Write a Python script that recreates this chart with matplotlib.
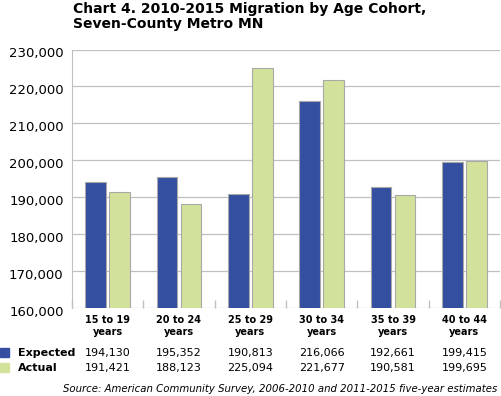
import matplotlib
matplotlib.use('Agg')
import matplotlib.pyplot as plt
import matplotlib.transforms as mtrans
import numpy as np

categories = ['15 to 19\nyears', '20 to 24\nyears', '25 to 29\nyears',
              '30 to 34\nyears', '35 to 39\nyears', '40 to 44\nyears']
expected = [194130, 195352, 190813, 216066, 192661, 199415]
actual = [191421, 188123, 225094, 221677, 190581, 199695]
yticks = [160000, 170000, 180000, 190000, 200000, 210000, 220000, 230000]

blue = '#344ea0'
green = '#d3e29b'
grid = '#c0c0c0'

fig = plt.figure(figsize=(5.01, 3.96), dpi=100)
ax = fig.add_axes([72 / 501, 1 - 308 / 396, 428 / 501, 258.5 / 396])

x = np.arange(len(categories))
ax.bar(x - 0.17, expected, width=0.29, color=blue, edgecolor='#a8a8a8', linewidth=0.8, zorder=3)
ax.bar(x + 0.17, actual, width=0.29, color=green, edgecolor='#a8a8a8', linewidth=0.8, zorder=3)

ax.set_xlim(-0.5, len(categories) - 0.5)
ax.set_ylim(160000, 230000)
ax.set_yticks(yticks)
ax.set_yticklabels(['{:,}'.format(v) for v in yticks], fontsize=9.5)
ax.yaxis.grid(True, color=grid, linewidth=0.9, zorder=0)
ax.tick_params(axis='y', length=0, pad=6)
# labels sit a little below their gridlines in the original
shift = mtrans.ScaledTranslation(0, -3 / 100, fig.dpi_scale_trans)
for lbl in ax.get_yticklabels():
    lbl.set_transform(lbl.get_transform() + shift)

ax.set_xticks(np.arange(len(categories) + 1) - 0.5)
ax.set_xticklabels([])
ax.tick_params(axis='x', direction='in', length=6, color=grid, width=1)

for s in ['top', 'right', 'bottom']:
    ax.spines[s].set_visible(False)
ax.spines['left'].set_color(grid)

tr = mtrans.blended_transform_factory(ax.transData, fig.transFigure)
for i, c in enumerate(categories):
    ax.text(i, 1 - 326 / 396, c, transform=tr, ha='center', va='center',
            fontsize=7, fontweight='bold', linespacing=1.2)
    ax.text(i, 1 - 353 / 396, '{:,}'.format(expected[i]), transform=tr,
            ha='center', va='center', fontsize=8)
    ax.text(i, 1 - 368 / 396, '{:,}'.format(actual[i]), transform=tr,
            ha='center', va='center', fontsize=8)

fig.patches.append(plt.Rectangle((0, 1 - 357 / 396), 9 / 501, 9 / 396,
                                 transform=fig.transFigure, color=blue))
fig.patches.append(plt.Rectangle((0, 1 - 372 / 396), 9 / 501, 9 / 396,
                                 transform=fig.transFigure, color=green))
fig.text(18 / 501, 1 - 353 / 396, 'Expected', fontsize=8, fontweight='bold', va='center')
fig.text(18 / 501, 1 - 368 / 396, 'Actual', fontsize=8, fontweight='bold', va='center')

fig.text(73 / 501, 1 - 16.5 / 396, 'Chart 4. 2010-2015 Migration by Age Cohort,\nSeven-County Metro MN',
         fontsize=10, fontweight='bold', va='center', ha='left', linespacing=1.1)

fig.text(497 / 501, 1 - 389 / 396,
         'Source: American Community Survey, 2006-2010 and 2011-2015 five-year estimates',
         fontsize=7.25, style='italic', ha='right', va='center')

fig.savefig('out.png', dpi=100)
